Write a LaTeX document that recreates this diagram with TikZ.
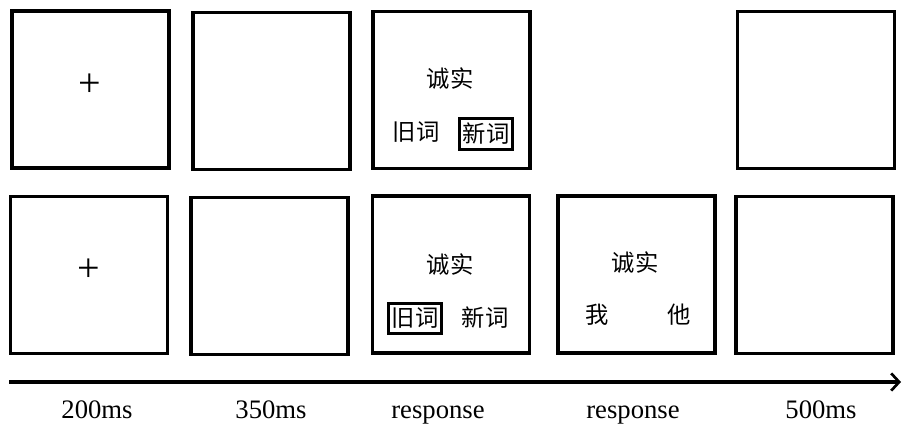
\documentclass[tikz,border=0pt]{standalone}
\usepackage{fontspec}
\setmainfont{Liberation Serif}
\newfontfamily\cjk{Noto Sans CJK SC}
\usetikzlibrary{arrows.meta,positioning}
\begin{document}
\begin{tikzpicture}[x=0.75pt,y=-0.75pt]
\tikzset{screen/.style={draw,line width=2.6pt,minimum width=118pt,minimum height=118pt,inner sep=0pt},
 word/.style={font=\cjk\fontsize{17.5}{19}\selectfont,inner sep=1pt},
 chosen/.style={word,draw,line width=2.4pt,inner xsep=2.6pt,inner ysep=3.6pt},
 cross/.style={font=\fontsize{30}{30}\selectfont,inner sep=0pt},
 dur/.style={font=\fontsize{20}{22}\selectfont,inner sep=0pt,anchor=base}}
\useasboundingbox (0,0) rectangle (902,424);
% top row
\node[screen] (fixA) at (90.5,89.5) {};
\node[screen] (blankA) at (271.5,91) {};
\node[screen] (probeA) at (451.5,90) {};
\node[screen] (endA) at (816,90) {};
\node[cross] (plusA) at (90,85) {+};
\node[word] (cueA) at (450,79) {诚实};
\node[word] (oldA) at (416,132) {旧词};
\node[chosen] (newA) at (486,134) {新词};
% bottom row
\node[screen] (fixB) at (89,275) {};
\node[screen] (blankB) at (269.5,276) {};
\node[screen] (probeB) at (451,274.5) {};
\node[screen] (judgeB) at (636.5,274.5) {};
\node[screen] (endB) at (814.5,275) {};
\node[cross] (plusB) at (89,270) {+};
\node[word] (cueB) at (450,265) {诚实};
\node[chosen] (oldB) at (415,318.5) {旧词};
\node[word] (newB) at (485,318) {新词};
\node[word] (cueC) at (635,263) {诚实};
\node[word] (selfC) at (597,315) {我};
\node[word] (otherC) at (679,315) {他};
% time line
\coordinate (t0) at (9,382);
\coordinate (t1) at (901,382);
\draw[line width=2.3pt,-{Straight Barb[length=6pt,width=13pt,line width=2pt]}] (t0) -- (t1);
\node[dur] (d1) at (97,418) {200ms};
\node[dur] (d2) at (271,418) {350ms};
\node[dur] (d3) at (438,418) {response};
\node[dur] (d4) at (633,418) {response};
\node[dur] (d5) at (821,418) {500ms};
\end{tikzpicture}
\end{document}
